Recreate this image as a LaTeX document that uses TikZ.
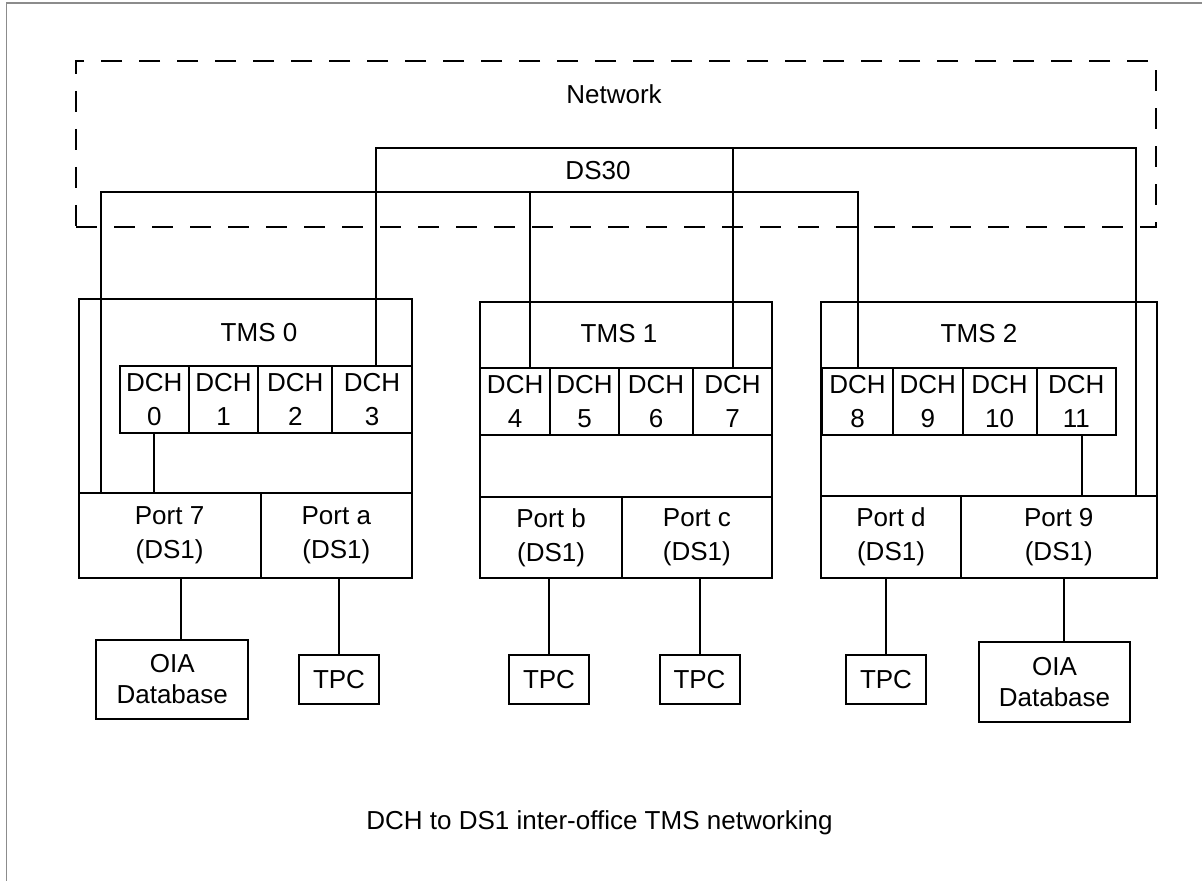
\documentclass[tikz,border=0pt]{standalone}
\usepackage{fontspec}
\setmainfont{Liberation Sans}
\usetikzlibrary{positioning, calc}
\definecolor{lineMain}{HTML}{000000}
\definecolor{frameGray}{HTML}{8C8C8C}
\newcommand{\diagfont}{\fontsize{13}{17}\selectfont}
\tikzset{
  tmsbox/.style={draw=lineMain, line width=1pt, inner sep=0pt, outer sep=0pt},
  dchcell/.style={draw=lineMain, line width=1pt, inner sep=0pt, outer sep=0pt,
    minimum height=33.5pt, font=\diagfont, align=center},
  portcell/.style={draw=lineMain, line width=1pt, inner sep=0pt, outer sep=0pt,
    font=\diagfont, align=center},
  endbox/.style={draw=lineMain, line width=1pt, inner sep=0pt, outer sep=0pt,
    font=\fontsize{13}{15.5}\selectfont, align=center},
  netbox/.style={draw=lineMain, line width=1pt, dash pattern=on 10.5pt off 8.5pt,
    inner sep=0pt, outer sep=0pt},
  wire/.style={draw=lineMain, line width=1pt},
  plainlabel/.style={font=\diagfont, inner sep=0pt},
  pageframe/.style={draw=frameGray, line width=0.75pt},
}
\begin{document}
\begin{tikzpicture}[x=0.5pt, y=-0.5pt]
  \useasboundingbox (0,0) rectangle (1202,881);

  % === Page frame ===
  \draw[pageframe] (6.5,881) -- (6.5,3) -- (1202,3);

  % === Network area ===
  \node[netbox, minimum width=540pt, minimum height=83pt] (network) at (616,144) {};
  \node[plainlabel] (netlbl) at (614,94) {Network};
  \node[plainlabel] (dslbl) at (598,171) {DS30};

  % === TMS frames ===
  \node[tmsbox, minimum width=166.75pt, minimum height=139.35pt] (tms0) at (245.25,438.35) {};
  \node[tmsbox, minimum width=145.85pt, minimum height=138pt] (tms1) at (626.15,439.7) {};
  \node[tmsbox, minimum width=167.75pt, minimum height=138pt] (tms2) at (988.75,439.7) {};
  \node[plainlabel] (tms0lbl) at (259,333) {TMS 0};
  \node[plainlabel] (tms1lbl) at (619,334) {TMS 1};
  \node[plainlabel] (tms2lbl) at (979,334) {TMS 2};

  % === DCH rows ===
  \node[dchcell, minimum width=34.35pt] (dch0) at (154.35,399.5) {DCH\\0};
  \node[dchcell, minimum width=34.8pt, right=0pt of dch0] (dch1) {DCH\\1};
  \node[dchcell, minimum width=36.95pt, right=0pt of dch1] (dch2) {DCH\\2};
  \node[dchcell, minimum width=39.9pt, right=0pt of dch2] (dch3) {DCH\\3};

  \node[dchcell, minimum width=34.85pt] (dch4) at (515.15,401.5) {DCH\\4};
  \node[dchcell, minimum width=34.5pt, right=0pt of dch4] (dch5) {DCH\\5};
  \node[dchcell, minimum width=37pt, right=0pt of dch5] (dch6) {DCH\\6};
  \node[dchcell, minimum width=39.5pt, right=0pt of dch6] (dch7) {DCH\\7};

  \node[dchcell, minimum width=35.5pt] (dch8) at (857.5,401.2) {DCH\\8};
  \node[dchcell, minimum width=34.75pt, right=0pt of dch8] (dch9) {DCH\\9};
  \node[dchcell, minimum width=37pt, right=0pt of dch9] (dch10) {DCH\\10};
  \node[dchcell, minimum width=39.75pt, right=0pt of dch10] (dch11) {DCH\\11};

  % === Port rows ===
  \node[portcell, minimum width=91.05pt, minimum height=42.35pt] (port7) at (169.55,535.35) {Port 7\\(DS1)};
  \node[portcell, minimum width=75.7pt, minimum height=42.35pt, right=0pt of port7] (porta) {Port a\\(DS1)};
  \node[portcell, minimum width=70.75pt, minimum height=40.35pt] (portb) at (551.05,537.35) {Port b\\(DS1)};
  \node[portcell, minimum width=75.1pt, minimum height=40.35pt, right=0pt of portb] (portc) {Port c\\(DS1)};
  \node[portcell, minimum width=70pt, minimum height=40.85pt] (portd) at (891,536.85) {Port d\\(DS1)};
  \node[portcell, minimum width=97.75pt, minimum height=40.85pt, right=0pt of portd] (port9) {Port 9\\(DS1)};

  % === Attached equipment ===
  \node[endbox, minimum width=75.8pt, minimum height=39.5pt] (db0) at (172.2,679.5) {OIA\\Database};
  \node[endbox, minimum width=40pt, minimum height=24.5pt] (tpcA) at (339,679.5) {TPC};
  \node[endbox, minimum width=40pt, minimum height=24.5pt] (tpcB) at (549,679.5) {TPC};
  \node[endbox, minimum width=40pt, minimum height=24.5pt] (tpcC) at (699.5,679.5) {TPC};
  \node[endbox, minimum width=40pt, minimum height=24.5pt] (tpcD) at (886,679.5) {TPC};
  \node[endbox, minimum width=75.5pt, minimum height=40pt] (db2) at (1054.5,682) {OIA\\Database};

  % === DS30 links ===
  \coordinate (dsUp) at (1136,148);
  \coordinate (dsLow) at (101,192);
  \draw[wire] ([xshift=2pt]dch3.north) |- (dsUp) -- (dsUp |- port9.north);
  \draw[wire] (dch7.north) -- (dch7.north |- dsUp);
  \draw[wire] (dsLow |- port7.north) -- (dsLow) -| (dch8.north);
  \draw[wire] ([xshift=7.5pt]dch4.north) -- ([xshift=7.5pt]dch4.north |- dsLow);

  % === DCH to port links ===
  \draw[wire] (dch0.south) -- (dch0.south |- port7.north);
  \draw[wire] ([xshift=3pt]dch11.south) -- ([xshift=3pt]dch11.south |- port9.north);

  % === Ports to equipment ===
  \draw[wire] ([xshift=4.5pt]db0.north) -- ([xshift=4.5pt]db0.north |- port7.south);
  \draw[wire] (tpcA.north) -- (tpcA.north |- porta.south);
  \draw[wire] (tpcB.north) -- (tpcB.north |- portb.south);
  \draw[wire] (tpcC.north) -- (tpcC.north |- portc.south);
  \draw[wire] (tpcD.north) -- (tpcD.north |- portd.south);
  \draw[wire] ([xshift=4.75pt]db2.north) -- ([xshift=4.75pt]db2.north |- port9.south);

  % === Caption ===
  \node[plainlabel] (caption) at (599.5,823) {DCH to DS1 inter-office TMS networking};

\end{tikzpicture}
\end{document}
